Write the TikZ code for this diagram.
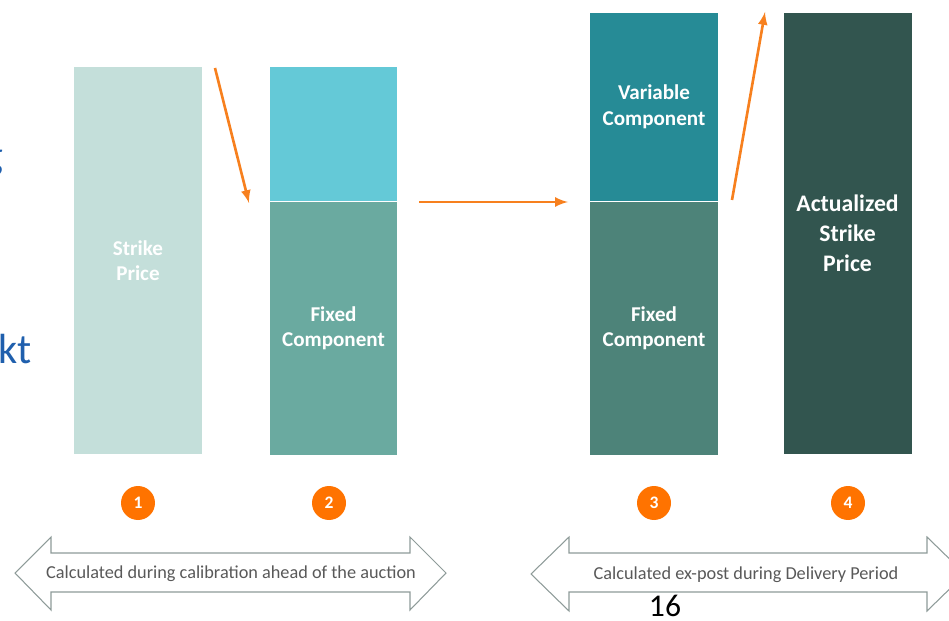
\documentclass[tikz,border=0pt]{standalone}
\usepackage{fontspec}
\setmainfont{Carlito}
\usetikzlibrary{positioning}

\tikzset{
  bar/.style={inner sep=0pt, minimum width=2.56cm, text=white, align=center,
    font=\fontsize{12}{14.5}\selectfont\bfseries},
  num/.style={circle, fill=stepor, inner sep=0pt, minimum size=0.68cm, text=white,
    font=\fontsize{10}{11}\selectfont\bfseries},
  flow/.style={->, draw=arrowor, line width=1.5pt},
  phase/.style={draw=outlg, fill=white, line width=0.6pt},
  phasetxt/.style={text=txtg, font=\fontsize{10.4}{12}\selectfont, inner sep=0pt}
}

\begin{document}
\begin{tikzpicture}[>=latex, x=0.02cm, y=-0.02cm]

\definecolor{strikec}{HTML}{C4DFDA}
\definecolor{cyanc}{HTML}{64C9D7}
\definecolor{fixa}{HTML}{6AAAA0}
\definecolor{varc}{HTML}{268B96}
\definecolor{fixb}{HTML}{4D8379}
\definecolor{actc}{HTML}{32554F}
\definecolor{stepor}{HTML}{FF7300}
\definecolor{arrowor}{HTML}{F7801E}
\definecolor{outlg}{HTML}{8E9B99}
\definecolor{txtg}{HTML}{595959}
\definecolor{slideb}{HTML}{1F5FAD}

\useasboundingbox (0,0) rectangle (949,621);
\clip (0,0) rectangle (949,621);

% left over from the slide
\node[anchor=base east, inner sep=0pt, text=slideb, font=\fontsize{24}{28}\selectfont] (frg) at (4,170) {g};
\node[anchor=base west, inner sep=0pt, text=slideb, font=\fontsize{24}{28}\selectfont] (frk) at (-2,363) {kt};

% bars
\node[bar, fill=strikec, minimum height=7.74cm] (strike) at (138,260.5) {Strike\\Price};
\node[bar, fill=cyanc, minimum height=2.68cm] (fixtop) at (333.5,134) {};
\node[bar, fill=fixa, minimum height=5.06cm, below=0pt of fixtop] (fixone) {Fixed\\Component};
\node[bar, fill=varc, minimum height=3.76cm] (var) at (654,107) {Variable\\Component};
\node[bar, fill=fixb, minimum height=5.06cm, below=0pt of var] (fixtwo) {Fixed\\Component};
\node[bar, fill=actc, minimum height=8.82cm, font=\fontsize{13.5}{17}\selectfont\bfseries] (act) at (847.5,233.5) {Actualized\\Strike\\Price};

% orange arrows
\coordinate (a1) at (215,68);  \coordinate (b1) at (249,203);
\coordinate (a2) at (419,202); \coordinate (b2) at (568,202);
\coordinate (a3) at (732,200); \coordinate (b3) at (765,12);
\draw[flow] (a1)--(b1);
\draw[flow] (a2)--(b2);
\draw[flow] (a3)--(b3);

% steps
\node[num] (s1) at (138,503) {1};
\node[num] (s2) at (329,503) {2};
\node[num] (s3) at (654,503) {3};
\node[num] (s4) at (848,503) {4};

% phases
\draw[phase] (15,573)--(51,537)--(51,553)--(410,553)--(410,537)--(446,573)--(410,610)--(410,592)--(51,592)--(51,610)--cycle;
\node[phasetxt] (ph1) at (231,574) {Calculated during calibration ahead of the auction};

\draw[phase] (531,574)--(569,537)--(569,553)--(927,553)--(927,537)--(965,574)--(927,611)--(927,592)--(569,592)--(569,611)--cycle;
\node[phasetxt] (ph2) at (746,575) {Calculated ex-post during Delivery Period};

\node[font=\fontsize{18}{20}\selectfont, inner sep=0pt] (pg) at (665,606) {16};

\end{tikzpicture}
\end{document}
